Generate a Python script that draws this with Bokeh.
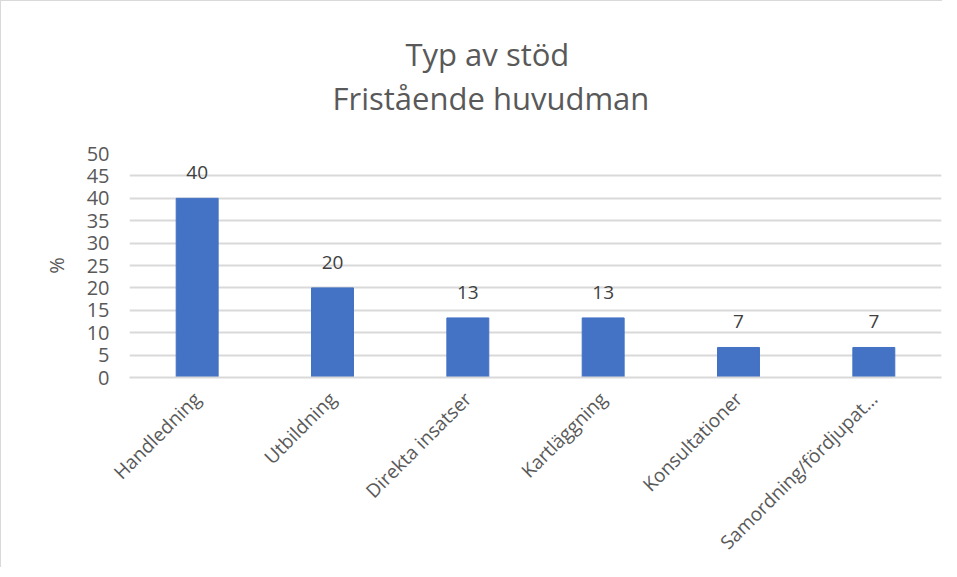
import math
from bokeh.plotting import figure
from bokeh.models import ColumnDataSource, FixedTicker, LabelSet, Title
from bokeh.core.properties import value
from bokeh.embed import file_html
from bokeh.resources import INLINE

categories = ["Handledning", "Utbildning", "Direkta insatser", "Kartläggning",
              "Konsultationer", "Samordning/fördjupat..."]
values = [40, 20, 13.3, 13.3, 6.7, 6.7]
labels = ["40", "20", "13", "13", "7", "7"]
y_ticks = [0, 5, 10, 15, 20, 25, 30, 35, 40, 45, 50]

FONT = "Open Sans"
src = ColumnDataSource(dict(cat=categories, val=values, lab=labels))

p = figure(x_range=categories, y_range=(0, 50),
           frame_width=812, frame_height=224,
           output_backend="svg", toolbar_location=None,
           min_border_left=128, min_border_right=1, min_border_top=152,
           min_border_bottom=0)
p.styles = {"border-left": "1px solid #d9d9d9", "border-top": "1px solid #d9d9d9"}
p.outline_line_color = None

p.vbar(x="cat", top="val", width=0.31, source=src, color="#4472C4")

p.add_layout(LabelSet(x="cat", y="val", text="lab", source=src, y_offset=19,
                      text_align="center", text_baseline="bottom",
                      text_font=value(FONT), text_font_size="19px",
                      text_color="#404040"))

spacer = Title(text=" ", text_font_size="30px", standoff=0)
t2 = Title(text="Fristående huvudman", align="left", offset=203, text_font=FONT,
           text_font_size="31px", text_color="#595959", text_font_style="normal",
           standoff=0)
t1 = Title(text="Typ av stöd", align="left", offset=276, text_font=FONT,
           text_font_size="31px", text_color="#595959", text_font_style="normal",
           standoff=0)
p.add_layout(spacer, "above")
p.add_layout(t2, "above")
p.add_layout(t1, "above")

p.xgrid.grid_line_color = None
p.ygrid.grid_line_color = "#d9d9d9"
p.ygrid.grid_line_width = 2
p.yaxis.ticker = FixedTicker(ticks=y_ticks)
p.yaxis.axis_line_color = None
p.yaxis.major_tick_line_color = None
p.yaxis.minor_tick_line_color = None
p.yaxis.major_label_text_font = FONT
p.yaxis.major_label_text_font_size = "20px"
p.yaxis.major_label_text_color = "#595959"
p.yaxis.major_label_standoff = 14
p.yaxis.axis_label = "%"
p.yaxis.axis_label_text_font = FONT
p.yaxis.axis_label_text_font_size = "20px"
p.yaxis.axis_label_text_color = "#595959"
p.yaxis.axis_label_text_font_style = "normal"
p.yaxis.axis_label_standoff = 14

p.xaxis.axis_line_color = "#d9d9d9"
p.xaxis.axis_line_width = 2
p.xaxis.major_tick_line_color = None
p.xaxis.minor_tick_line_color = None
p.xaxis.major_label_orientation = math.pi / 4
p.xaxis.major_label_text_font = FONT
p.xaxis.major_label_text_font_size = "19px"
p.xaxis.major_label_text_color = "#595959"
p.xaxis.major_label_standoff = 12

open("out.html", "w").write(file_html(p, INLINE))
